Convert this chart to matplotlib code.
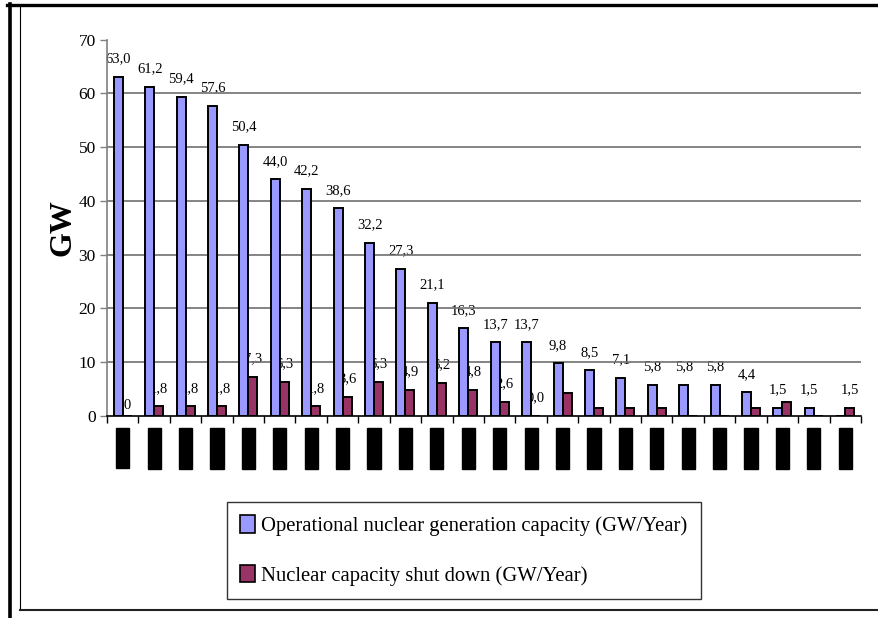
import matplotlib
matplotlib.use("Agg")
import matplotlib.pyplot as plt
from matplotlib.lines import Line2D
from matplotlib.patches import Patch
import numpy as np

plt.rcParams["font.family"] = ["Liberation Serif", "DejaVu Serif"]

# Yearly periods (x categories)
periods = ["2000/01", "2001/02", "2002/03", "2003/04", "2004/05", "2005/06",
           "2006/07", "2007/08", "2008/09", "2009/10", "2010/11", "2011/12",
           "2012/13", "2013/14", "2014/15", "2015/16", "2016/17", "2017/18",
           "2018/19", "2019/20", "2020/21", "2021/22", "2022/23", "2023/24"]

# Operational nuclear generation capacity, GW
operational = [63.0, 61.2, 59.4, 57.6, 50.4, 44.0, 42.2, 38.6, 32.2, 27.3,
               21.1, 16.3, 13.7, 13.7, 9.8, 8.5, 7.1, 5.8, 5.8, 5.8,
               4.4, 1.5, 1.5, 0.0]
operational_labels = ["63,0", "61,2", "59,4", "57,6", "50,4", "44,0", "42,2",
                      "38,6", "32,2", "27,3", "21,1", "16,3", "13,7", "13,7",
                      "9,8", "8,5", "7,1", "5,8", "5,8", "5,8", "4,4", "1,5",
                      "1,5", ""]

# Nuclear capacity shut down, GW
shutdown = [0.0, 1.8, 1.8, 1.8, 7.3, 6.3, 1.8, 3.6, 6.3, 4.9,
            6.2, 4.8, 2.6, 0.0, 4.2, 1.5, 1.5, 1.5, 0.0, 0.0,
            1.5, 2.6, 0.0, 1.5]
shutdown_labels = ["0", "1,8", "1,8", "1,8", "7,3", "6,3", "1,8", "3,6",
                   "6,3", "4,9", "6,2", "4,8", "2,6", "0,0", "", "", "", "",
                   "", "", "", "", "", "1,5"]

yticks = [0, 10, 20, 30, 40, 50, 60, 70]

blue = "#9999FF"
wine = "#993366"

fig = plt.figure(figsize=(8.79, 6.18), dpi=100)
ax = fig.add_axes([107 / 879, 1 - 416 / 618, (861 - 107) / 879, (416 - 39.5) / 618])

x = np.arange(len(periods))
w = 1 / 3.5
ax.bar(x - w / 2, operational, w, color=blue, edgecolor="black", linewidth=1.4, zorder=2)
ax.bar(x + w / 2, shutdown, w, color=wine, edgecolor="black", linewidth=1.4, zorder=2)

for xi, v, s in zip(x - w / 2, operational, operational_labels):
    if s:
        ax.annotate(s, (xi, v), xytext=(0, 10.5), textcoords="offset points",
                    ha="center", va="baseline", fontsize=10.5, zorder=0.3)
for xi, v, s in zip(x + w / 2, shutdown, shutdown_labels):
    if s:
        off = 5 if s == "0" else 10.5
        ax.annotate(s, (xi, v), xytext=(0, off), textcoords="offset points",
                    ha="center", va="baseline", fontsize=10.5, zorder=0.3)

ax.set_xlim(-0.5, len(periods) - 0.5)
ax.set_ylim(0, 70)
ax.set_yticks(yticks)
ax.set_yticklabels([str(t) for t in yticks], fontsize=12.5)
ax.tick_params(axis="y", direction="out", length=5, width=1, color="#808080", pad=3)

for t in yticks[1:-1]:
    ax.axhline(t, color="#707070", linewidth=1.2, zorder=0.5)

ax.set_xticks(x)
ax.set_xticklabels(periods, rotation=90, fontsize=8.2, color="black",
                   bbox=dict(boxstyle="square,pad=0.18", facecolor="black", edgecolor="black"))
ax.tick_params(axis="x", which="major", length=0, pad=10)
ax.set_xticks(np.arange(-0.5, len(periods)), minor=True)
ax.tick_params(axis="x", which="minor", direction="out", length=5, width=1, color="black")

for side in ("top", "right"):
    ax.spines[side].set_visible(False)
ax.spines["left"].set_color("#808080")
ax.spines["left"].set_linewidth(1.2)
ax.spines["bottom"].set_color("black")
ax.spines["bottom"].set_linewidth(1.2)

ax.set_ylabel("GW", fontsize=23, fontweight="bold", labelpad=1)

handles = [Patch(facecolor=blue, edgecolor="black", linewidth=1.2),
           Patch(facecolor=wine, edgecolor="black", linewidth=1.2)]
labels = ["Operational nuclear generation capacity (GW/Year)",
          "Nuclear capacity shut down (GW/Year)"]
leg = fig.legend(handles, labels, loc="upper left",
                 bbox_to_anchor=(227 / 879, 1 - 502 / 618), borderaxespad=0,
                 fontsize=14.9, frameon=True, fancybox=False, edgecolor="black",
                 handlelength=0.7, handleheight=0.9, handletextpad=0.3,
                 labelspacing=1.4, borderpad=0.65)
leg.get_frame().set_linewidth(1.0)

# Outer chart frame
H, W = 618, 879
fig.add_artist(Line2D([7 / W, 1], [1 - 5 / H, 1 - 5 / H], color="black", linewidth=2.4))
fig.add_artist(Line2D([9.5 / W, 9.5 / W], [1 - 4 / H, 0], color="black", linewidth=2.6))
fig.add_artist(Line2D([20 / W, 20 / W], [1 - 5 / H, 1 - 610 / H], color="black", linewidth=0.8))
fig.add_artist(Line2D([20 / W, 1], [1 - 610 / H, 1 - 610 / H], color="#222222", linewidth=1.5))

fig.savefig("out.png", dpi=100)
